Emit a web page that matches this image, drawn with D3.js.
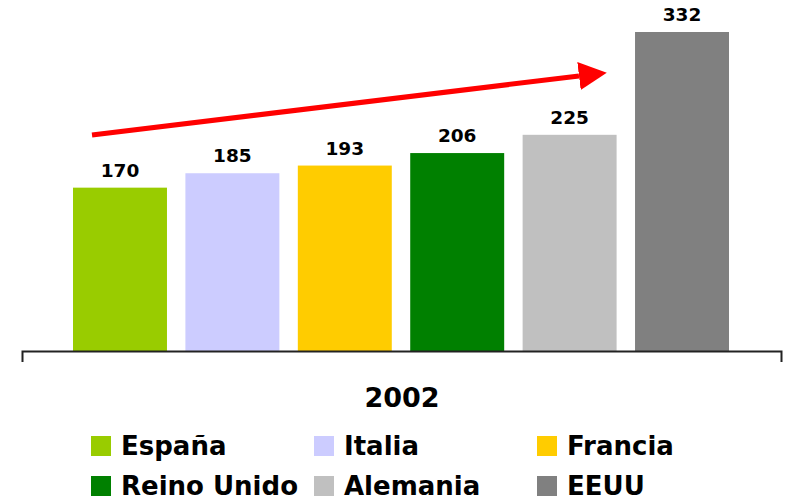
<!DOCTYPE html>
<html>
<head>
<meta charset="utf-8">
<script src="https://cdn.jsdelivr.net/npm/d3@7"></script>
<style>
  body { margin: 0; background: #fff; }
  svg { display: block; font-family: "DejaVu Sans", Verdana, sans-serif; font-weight: bold; }
</style>
</head>
<body>
<svg id="chart" width="787" height="500"></svg>
<script>
// data
const countries = ['España', 'Italia', 'Francia', 'Reino Unido', 'Alemania', 'EEUU'];
const values    = [170, 185, 193, 206, 225, 332];
const colors    = ['#99cc00', '#ccccff', '#ffcc00', '#008000', '#c0c0c0', '#808080'];
const yearLabel = '2002';

const svg = d3.select('#chart');

const x = d3.scaleBand().domain(countries).range([73, 729]).paddingInner(0.164).paddingOuter(0);
const y = d3.scaleLinear().domain([0, 332]).range([351, 32]);

// bars
svg.selectAll('.bar')
  .data(countries)
  .enter().append('rect')
    .attr('class', 'bar')
    .attr('x', d => x(d))
    .attr('y', (d, i) => y(values[i]))
    .attr('width', x.bandwidth())
    .attr('height', (d, i) => y(0) - y(values[i]))
    .attr('fill', (d, i) => colors[i]);

// value labels
svg.selectAll('.val')
  .data(countries)
  .enter().append('text')
    .attr('class', 'val')
    .attr('x', d => x(d) + x.bandwidth() / 2)
    .attr('y', (d, i) => y(values[i]) - 11)
    .attr('text-anchor', 'middle')
    .attr('font-size', 18.5)
    .attr('fill', '#000')
    .text((d, i) => values[i]);

// axis line with end ticks
svg.append('path')
  .attr('d', 'M22.5,362V351.5H781.5V362')
  .attr('fill', 'none')
  .attr('stroke', '#222')
  .attr('stroke-width', 2);

svg.append('text')
  .attr('x', 402)
  .attr('y', 407)
  .attr('text-anchor', 'middle')
  .attr('font-size', 27)
  .text(yearLabel);

// trend arrow
svg.append('defs').append('marker')
  .attr('id', 'head')
  .attr('viewBox', '0 0 10 10')
  .attr('refX', 0).attr('refY', 5)
  .attr('markerWidth', 5.6).attr('markerHeight', 5.8)
  .attr('markerUnits', 'strokeWidth')
  .attr('orient', 'auto')
  .append('path').attr('d', 'M0,0L10,5L0,10Z').attr('fill', '#ff0000');

svg.append('line')
  .attr('x1', 92).attr('y1', 135)
  .attr('x2', 579).attr('y2', 76)
  .attr('stroke', '#ff0000')
  .attr('stroke-width', 5)
  .attr('marker-end', 'url(#head)');

// legend
const legend = svg.selectAll('.leg')
  .data(countries)
  .enter().append('g')
    .attr('class', 'leg')
    .attr('transform', (d, i) => `translate(${91 + (i % 3) * 223},${436 + Math.floor(i / 3) * 40})`);
legend.append('rect')
  .attr('width', 20).attr('height', 20)
  .attr('fill', (d, i) => colors[i]);
legend.append('text')
  .attr('x', 30).attr('y', 19)
  .attr('font-size', 26)
  .text(d => d);
</script>
</body>
</html>
